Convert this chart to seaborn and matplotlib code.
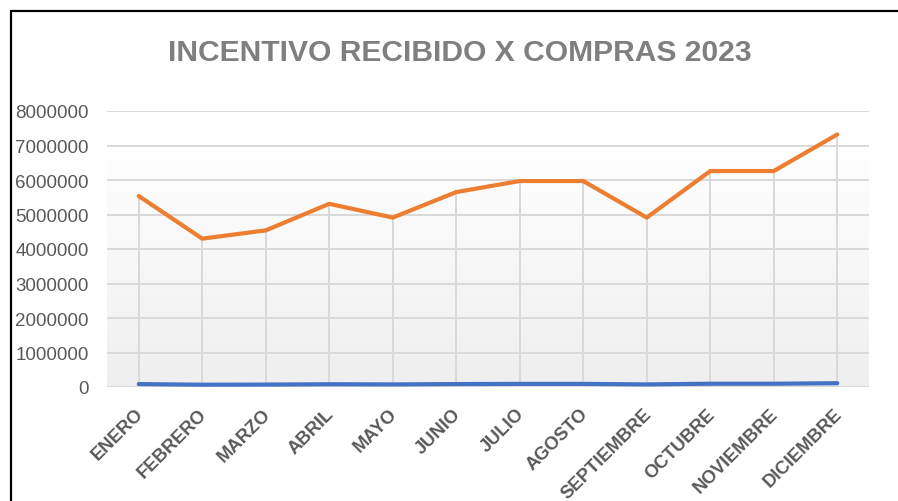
import numpy as np
import pandas as pd
import seaborn as sns
import matplotlib.pyplot as plt
from matplotlib.colors import LinearSegmentedColormap
from matplotlib.patches import Rectangle
from matplotlib.transforms import ScaledTranslation

# Data
meses = ["ENERO", "FEBRERO", "MARZO", "ABRIL", "MAYO", "JUNIO", "JULIO",
         "AGOSTO", "SEPTIEMBRE", "OCTUBRE", "NOVIEMBRE", "DICIEMBRE"]
compras = [5535000, 4300000, 4540000, 5310000, 4910000, 5650000, 5970000,
           5970000, 4910000, 6260000, 6260000, 7320000]
incentivo = [85000, 66000, 70000, 80000, 75000, 85000, 90000,
             90000, 75000, 95000, 95000, 110000]
yticks = [0, 1000000, 2000000, 3000000, 4000000, 5000000, 6000000, 7000000, 8000000]

df = pd.DataFrame({
    "mes": meses * 2,
    "valor": compras + incentivo,
    "serie": ["Compras"] * len(meses) + ["Incentivo recibido"] * len(meses),
})

sns.set_theme(style="white")
plt.rcParams['font.family'] = ['Liberation Sans', 'DejaVu Sans']

fig = plt.figure(figsize=(8.98, 5.02), dpi=100)
ax = fig.add_axes([107 / 898, 114 / 502, 762 / 898, 276 / 502])

# gradient fill of the plot area
cmap = LinearSegmentedColormap.from_list("bg", ["#efefef", "#ffffff"])
grad = np.linspace(0, 1, 256).reshape(-1, 1)

sns.lineplot(data=df, x="mes", y="valor", hue="serie",
             palette={"Compras": "#ED7D31", "Incentivo recibido": "#4472C4"},
             linewidth=3, legend=False, ax=ax, zorder=3,
             solid_capstyle="round")

ax.imshow(grad, cmap=cmap, origin="lower", aspect="auto",
          extent=[-0.5, len(meses) - 0.5, 0, 7000000], zorder=0)

# drop lines from the orange series
ax.vlines(meses, 0, compras, color="#d9d9d9", lw=1.4, zorder=1)

ax.set_xlim(-0.5, len(meses) - 0.5)
ax.set_ylim(0, 8000000)
ax.set_yticks(yticks)
ax.set_yticklabels([str(v) for v in yticks])
ax.yaxis.grid(True, color="#d9d9d9", lw=1.4, zorder=1)
ax.set_axisbelow(True)
for s in ax.spines.values():
    s.set_visible(False)
ax.axhline(0, color="#d9d9d9", lw=1.6, zorder=1)

ax.set_xlabel("")
ax.set_ylabel("")
ax.tick_params(axis="both", length=0)
ax.tick_params(axis="y", pad=13, labelsize=13.5, labelcolor="#595959")
ax.tick_params(axis="x", pad=13, labelcolor="#595959")
ax.set_xticks(range(len(meses)))
ax.set_xticklabels(meses, rotation=45, ha="right", va="top",
                   rotation_mode="anchor", fontweight="bold", fontsize=13.2,
                   color="#595959")
shift = ScaledTranslation(-4 / 100, 0, fig.dpi_scale_trans)
for lbl in ax.get_xticklabels():
    lbl.set_transform(lbl.get_transform() + shift)

fig.text(460 / 898, 1 - 61 / 502, "INCENTIVO RECIBIDO X COMPRAS 2023",
         ha="center", va="baseline", fontsize=21.6, fontweight="bold", color="#7f7f7f")

# chart border (right and bottom edges fall outside the image)
fig.patches.append(Rectangle((11 / 898, -0.2), 1.2, 1.2 - 12 / 502,
                             transform=fig.transFigure, fill=False,
                             edgecolor="black", lw=1.6))

fig.savefig("out.png", dpi=100)
